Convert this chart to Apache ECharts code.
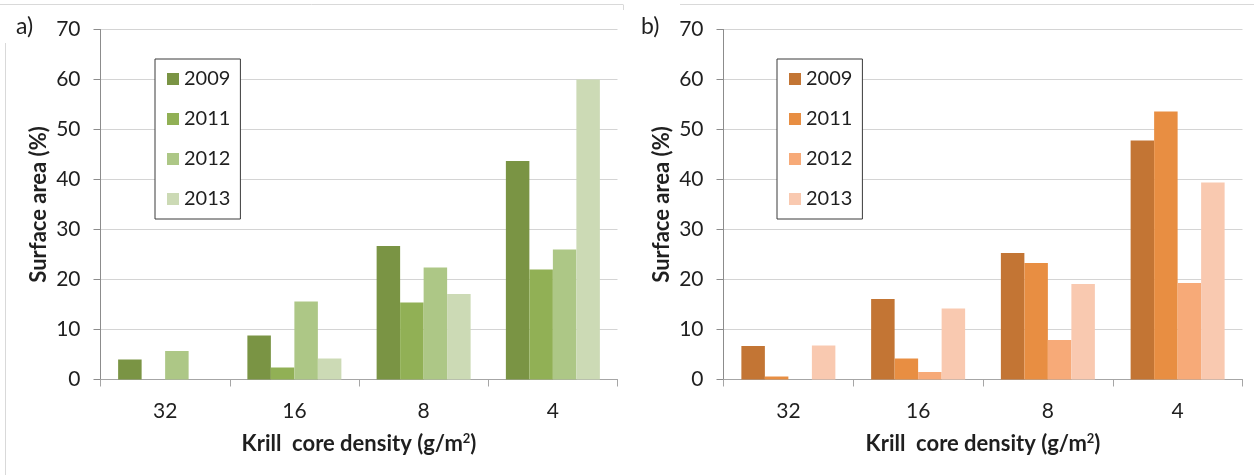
<!DOCTYPE html>
<html>
<head>
<meta charset="utf-8">
<script src="https://cdn.jsdelivr.net/npm/echarts@6/dist/echarts.min.js"></script>
<style>
html,body{margin:0;padding:0;background:#fff;}
#chart{width:1254px;height:475px;}
</style>
</head>
<body>
<div id="chart"></div>
<script>
const categories = ['32', '16', '8', '4'];
const years = ['2009', '2011', '2012', '2013'];
const yTicks = [0, 10, 20, 30, 40, 50, 60, 70];

// Panel a (green)
const a2009 = [4.0, 8.8, 26.7, 43.7];
const a2011 = [null, 2.4, 15.4, 22.0];
const a2012 = [5.7, 15.6, 22.4, 26.0];
const a2013 = [null, 4.2, 17.1, 60.0];
// Panel b (orange)
const b2009 = [6.7, 16.1, 25.3, 47.8];
const b2011 = [0.6, 4.2, 23.3, 53.6];
const b2012 = [null, 1.5, 7.9, 19.3];
const b2013 = [6.8, 14.2, 19.1, 39.4];

const greens = ['#7a9444', '#91b055', '#adc786', '#ccdab5'];
const oranges = ['#c37534', '#e88e42', '#f7aa78', '#f9c9b0'];

const FONT = 'Lato';
const textColor = '#1f1f1f';

function xAxisCfg(gi) {
  return {
    type: 'category', gridIndex: gi, data: categories,
    axisLine: { lineStyle: { color: '#a6a6a6', width: 1 } },
    axisTick: { show: true, length: 7, lineStyle: { color: '#a6a6a6' } },
    axisLabel: { margin: 21, fontSize: 21, color: textColor, fontFamily: FONT },
    name: '{n|Krill  core density (g/m}{s|2}{n|)}',
    nameLocation: 'middle', nameGap: 53,
    nameTextStyle: {
      rich: {
        n: { fontSize: 22, fontWeight: 'bold', color: textColor, fontFamily: FONT },
        s: { fontSize: 13, fontWeight: 'bold', color: textColor, fontFamily: FONT, verticalAlign: 'top', padding: [0, 0, 9, 0] }
      }
    }
  };
}
function yAxisCfg(gi) {
  return {
    type: 'value', gridIndex: gi, min: yTicks[0], max: yTicks[yTicks.length - 1], interval: 10,
    axisLine: { show: true, lineStyle: { color: '#8c8c8c', width: 1 } },
    axisTick: { show: true, length: 7, lineStyle: { color: '#8c8c8c' } },
    axisLabel: { margin: 20, fontSize: 21, color: textColor, fontFamily: FONT },
    splitLine: { show: true, lineStyle: { color: '#d4d4d4', width: 1 } },
    name: 'Surface area (%)', nameLocation: 'middle', nameGap: 51,
    nameTextStyle: { fontSize: 22, fontWeight: 'bold', color: textColor, fontFamily: FONT }
  };
}
function legendCfg(prefix, left) {
  return {
    orient: 'vertical', left: left, top: 59,
    icon: 'rect', itemWidth: 12, itemHeight: 12, itemGap: 20,
    padding: [10, 10, 10, 12],
    borderColor: '#3a3a3a', borderWidth: 1, backgroundColor: '#fff',
    textStyle: { fontSize: 20, lineHeight: 20, color: textColor, fontFamily: FONT },
    data: years.map(y => prefix + y),
    formatter: n => n.split(':')[1],
    selectedMode: false
  };
}
const aData = [a2009, a2011, a2012, a2013];
const bData = [b2009, b2011, b2012, b2013];
const series = [];
years.forEach((y, i) => {
  series.push({ name: 'a:' + y, type: 'bar', xAxisIndex: 0, yAxisIndex: 0, data: aData[i],
    barWidth: 23.5, barGap: '0%', itemStyle: { color: greens[i] }, silent: true });
});
years.forEach((y, i) => {
  series.push({ name: 'b:' + y, type: 'bar', xAxisIndex: 1, yAxisIndex: 1, data: bData[i],
    barWidth: 23.5, barGap: '0%', itemStyle: { color: oranges[i] }, silent: true });
});

const chart = echarts.init(document.getElementById('chart'), null, { renderer: 'canvas' });
chart.setOption({
  backgroundColor: '#ffffff',
  animation: false,
  grid: [
    { left: 100.5, top: 29.5, width: 517, height: 350, containLabel: false },
    { left: 723.5, top: 29.5, width: 519, height: 350, containLabel: false }
  ],
  xAxis: [xAxisCfg(0), xAxisCfg(1)],
  yAxis: [yAxisCfg(0), yAxisCfg(1)],
  legend: [legendCfg('a:', 155), legendCfg('b:', 777)],
  series: series,
  graphic: [
    { type: 'text', left: 16, top: 15, style: { text: 'a)', fontSize: 23, fill: textColor, fontFamily: FONT } },
    { type: 'text', left: 641, top: 15, style: { text: 'b)', fontSize: 23, fill: textColor, fontFamily: FONT } },
    { type: 'line', shape: { x1: 0, y1: 4.5, x2: 623, y2: 4.5 }, style: { stroke: '#d9d9d9', lineWidth: 1 }, silent: true },
    { type: 'line', shape: { x1: 623.5, y1: 4.5, x2: 623.5, y2: 10 }, style: { stroke: '#d9d9d9', lineWidth: 1 }, silent: true },
    { type: 'line', shape: { x1: 5.5, y1: 43, x2: 5.5, y2: 475 }, style: { stroke: '#d9d9d9', lineWidth: 1 }, silent: true },
    { type: 'line', shape: { x1: 680, y1: 4.5, x2: 1254, y2: 4.5 }, style: { stroke: '#d9d9d9', lineWidth: 1 }, silent: true }
  ]
});
</script>
</body>
</html>
